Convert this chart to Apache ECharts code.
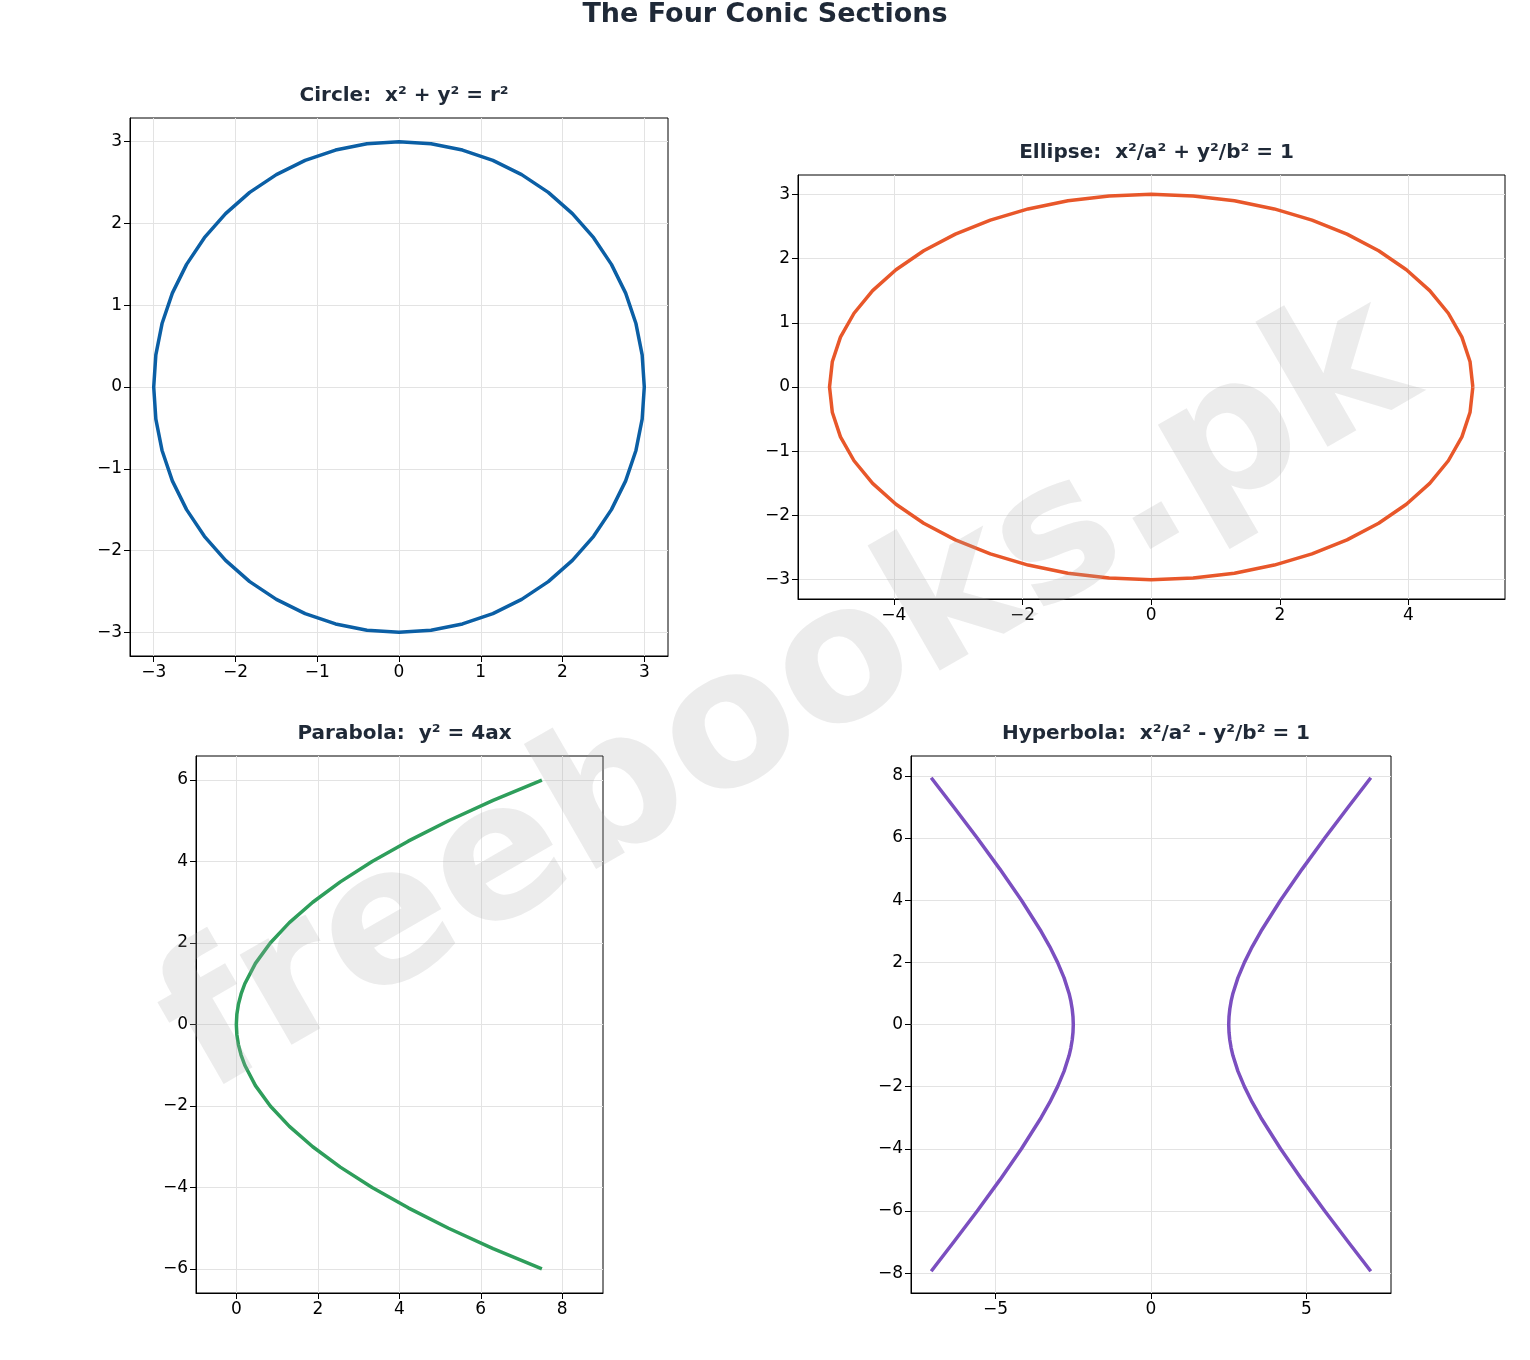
<!DOCTYPE html><html><head><meta charset="utf-8"><script src="https://cdn.jsdelivr.net/npm/echarts@6/dist/echarts.min.js"></script></head><body style="margin:0"><div id="c" style="width:1530px;height:1360px"></div><script>
// first-quadrant samples (angle 0..90 step 7.5 deg), mirrored to close the loops
const circleQX=[3,2.974,2.898,2.772,2.598,2.380,2.121,1.826,1.5,1.148,0.776,0.392,0];
const circleQY=[0,0.392,0.776,1.148,1.5,1.826,2.121,2.380,2.598,2.772,2.898,2.974,3];
const ellipseQX=[5,4.957,4.830,4.619,4.330,3.967,3.536,3.044,2.5,1.913,1.294,0.653,0];
const ellipseQY=circleQY;
const parabolaY=[0,0.25,0.5,0.75,1,1.5,2,2.5,3,3.5,4,4.5,5,5.5,6];
const parabolaX=[0,0.013,0.052,0.117,0.208,0.469,0.833,1.302,1.875,2.552,3.333,4.219,5.208,6.302,7.5];
const hypY=[0,0.25,0.5,0.75,1,1.5,2,2.5,3,4,5,6,7,7.94];
const hypX=[2.5,2.509,2.535,2.577,2.635,2.795,3.005,3.254,3.536,4.167,4.861,5.590,6.346,7.07];
const titles=['Circle:  x² + y² = r²','Ellipse:  x²/a² + y²/b² = 1','Parabola:  y² = 4ax','Hyperbola:  x²/a² - y²/b² = 1'];
const xTicks=[[-3,-2,-1,0,1,2,3],[-4,-2,0,2,4],[0,2,4,6,8],[-5,0,5]];
const yTicks=[[-3,-2,-1,0,1,2,3],[-3,-2,-1,0,1,2,3],[-6,-4,-2,0,2,4,6],[-8,-6,-4,-2,0,2,4,6,8]];
const colors=['#0b5fa5','#e8572a','#2e9e5b','#7b4fc0'];
const grids=[{left:130,top:118,width:538,height:538},{left:798,top:175,width:707,height:424},{left:196,top:756,width:407,height:537},{left:911,top:756,width:480,height:537}];
const xr=[[-3.29,3.29],[-5.49,5.5],[-0.99,9],[-7.72,7.72]];
const yr=[[-3.29,3.29],[-3.3,3.3],[-6.59,6.59],[-8.64,8.64]];
const fmt=v=>String(v).replace('-','−');
const ax=(t,r,pos)=>({type:'value',min:r[0],max:r[1],position:pos,
 axisLine:{show:true,onZero:false,lineStyle:{color:'#000',width:1}},
 axisTick:{show:true,customValues:t,length:6,lineStyle:{color:'#000'}},
 axisLabel:{customValues:t,formatter:fmt,color:'#000',fontSize:17,fontFamily:'DejaVu Sans',margin:8},
 splitLine:{show:true,lineStyle:{color:'#e3e3e3',width:1}}});
function loop(qx,qy){
 const p=[];
 for(let k=0;k<qx.length;k++)p.push([qx[k],qy[k]]);
 for(let k=qx.length-2;k>=0;k--)p.push([-qx[k],qy[k]]);
 for(let k=1;k<qx.length;k++)p.push([-qx[k],-qy[k]]);
 for(let k=qx.length-2;k>=0;k--)p.push([qx[k],-qy[k]]);
 return p;}
function branch(xs,ys,sx){
 const p=[];
 for(let k=xs.length-1;k>0;k--)p.push([sx*xs[k],-ys[k]]);
 for(let k=0;k<xs.length;k++)p.push([sx*xs[k],ys[k]]);
 return p;}
const lines=[[0,loop(circleQX,circleQY)],[1,loop(ellipseQX,ellipseQY)],[2,branch(parabolaX,parabolaY,1)],[3,branch(hypX,hypY,1)],[3,branch(hypX,hypY,-1)]];
const series=lines.map(([i,d])=>({type:'line',xAxisIndex:i,yAxisIndex:i,showSymbol:false,smooth:false,data:d,lineStyle:{color:colors[i],width:3.5,join:'round'},z:5}));
const chart=echarts.init(document.getElementById('c'));
chart.setOption({animation:false,backgroundColor:'#fff',
 title:[{text:'The Four Conic Sections',left:'center',top:-4,textStyle:{fontSize:27,fontWeight:'bold',color:'#1f2937',fontFamily:'DejaVu Sans'}}].concat(
  grids.map((g,i)=>({text:titles[i],left:g.left+g.width/2,textAlign:'center',top:g.top-37,textStyle:{fontSize:20,fontWeight:'bold',color:'#1f2937',fontFamily:'DejaVu Sans'}}))),
 grid:grids.map(g=>Object.assign({show:true,borderColor:'#000',borderWidth:1,backgroundColor:'transparent'},g)),
 xAxis:xTicks.map((t,i)=>Object.assign(ax(t,xr[i],'bottom'),{gridIndex:i})),
 yAxis:yTicks.map((t,i)=>Object.assign(ax(t,yr[i],'left'),{gridIndex:i})),
 graphic:[{type:'text',x:790,y:700,rotation:Math.PI/6,z:100,
  style:{text:'freebooks.pk',fill:'rgba(170,170,170,0.22)',font:'bold 190px "DejaVu Sans"',align:'center',verticalAlign:'middle'}}],
 series});
</script></body></html>
